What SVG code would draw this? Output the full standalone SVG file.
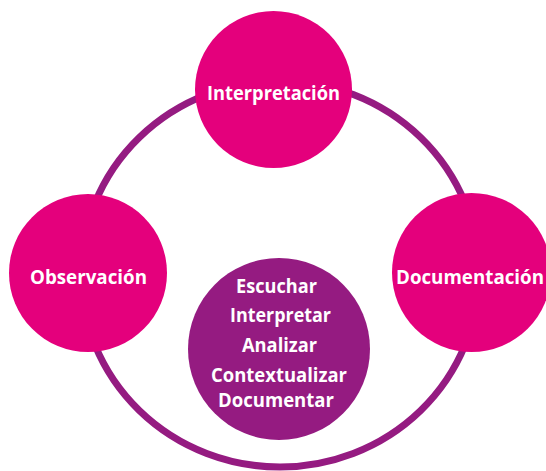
<svg xmlns="http://www.w3.org/2000/svg" width="546" height="471" viewBox="0 0 546 471">
<style>
.pink{fill:#e4007c}
.purple{fill:#951b81}
.ring{fill:none;stroke:#951b81;stroke-width:7}
text{font-family:"Open Sans","Liberation Sans",sans-serif;font-weight:bold;font-size:19px;fill:#ffffff;text-anchor:start}
</style>
<rect width="546" height="471" fill="#ffffff"/>
<g id="connectors">
<ellipse class="ring" cx="280" cy="274" rx="199" ry="193"/>
</g>
<g id="interpretacion">
<circle class="pink" cx="273.5" cy="89.5" r="78.5"/>
<text x="207" y="100" textLength="133" lengthAdjust="spacingAndGlyphs">Interpretación</text>
</g>
<g id="observacion">
<circle class="pink" cx="88" cy="273" r="79"/>
<text x="30" y="284" textLength="117" lengthAdjust="spacingAndGlyphs">Observación</text>
</g>
<g id="documentacion">
<circle class="pink" cx="471.5" cy="272.5" r="79.5"/>
<text x="396" y="284" textLength="148" lengthAdjust="spacingAndGlyphs">Documentación</text>
</g>
<g id="centro">
<circle class="purple" cx="279" cy="349" r="91"/>
<text x="236" y="293" textLength="81" lengthAdjust="spacingAndGlyphs">Escuchar</text>
<text x="230" y="322" textLength="101" lengthAdjust="spacingAndGlyphs">Interpretar</text>
<text x="242" y="352" textLength="75" lengthAdjust="spacingAndGlyphs">Analizar</text>
<text x="211" y="382" textLength="136" lengthAdjust="spacingAndGlyphs">Contextualizar</text>
<text x="218" y="407" textLength="116" lengthAdjust="spacingAndGlyphs">Documentar</text>
</g>
</svg>
